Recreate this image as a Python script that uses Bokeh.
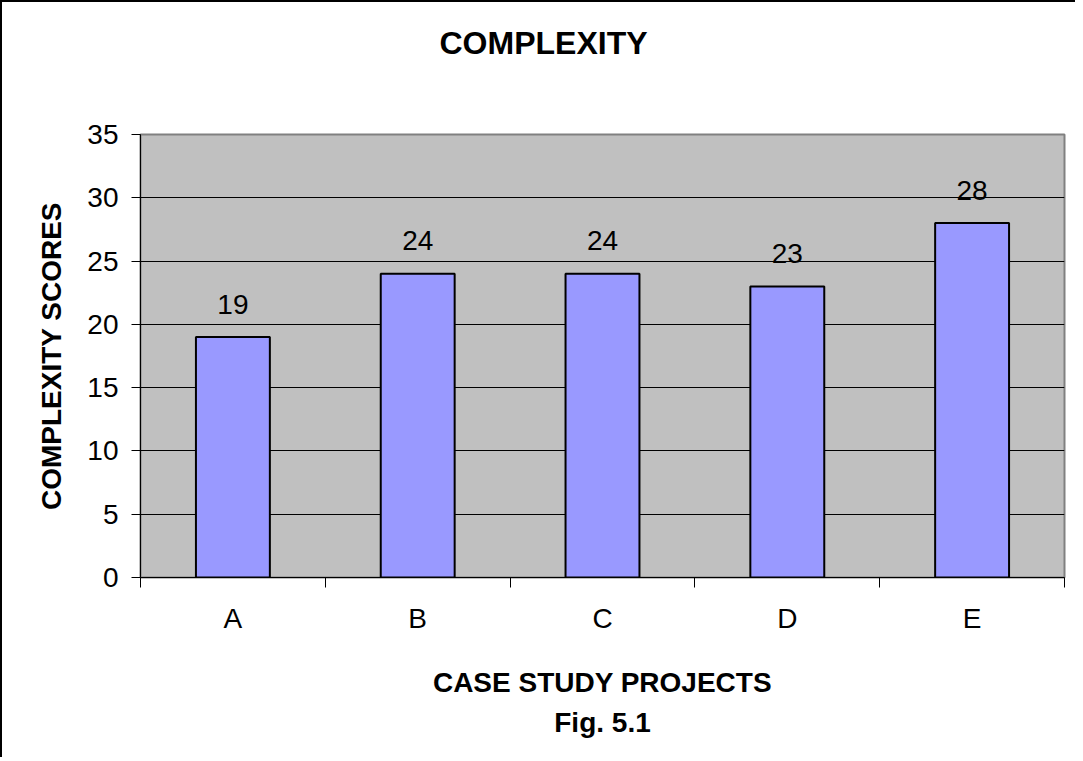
from bokeh.plotting import figure
from bokeh.models import FixedTicker, Range1d, Title, ColumnDataSource, InlineStyleSheet
from bokeh.core.properties import value
from bokeh.embed import file_html
from bokeh.resources import INLINE

categories = ["A", "B", "C", "D", "E"]
scores = [19, 24, 24, 23, 28]
y_ticks = [0, 5, 10, 15, 20, 25, 30, 35]

FONT = "Liberation Sans"
xs = list(range(len(categories)))
src = ColumnDataSource(data=dict(x=xs, top=scores, lbl=[str(v) for v in scores]))

p = figure(width=1075, height=757, output_backend="svg", toolbar_location=None,
           x_range=Range1d(-0.5, len(categories) - 0.5), y_range=Range1d(0, 35),
           min_border_left=138, min_border_right=13, min_border_top=132, min_border_bottom=182,
           background_fill_color="#C0C0C0", border_fill_color="white",
           outline_line_color="#808080", outline_line_width=2)
# outer chart-area border (left and top edges visible in the reference)
p.stylesheets = [InlineStyleSheet(css=":host { border-left: 2px solid black; border-top: 2px solid black; }")]

p.vbar(x="x", top="top", bottom=0, width=0.4, source=src,
       fill_color="#9999FF", line_color="black", line_width=2)
p.text(x="x", y="top", text="lbl", source=src, text_align="center",
       text_baseline="alphabetic", y_offset=-33, text_font=value(FONT),
       text_font_size="28px", text_color="black")

# axes
p.xgrid.visible = False
p.ygrid.ticker = FixedTicker(ticks=y_ticks)
p.ygrid.grid_line_color = "black"
p.ygrid.grid_line_width = 1

p.yaxis.ticker = FixedTicker(ticks=y_ticks)
p.yaxis.major_tick_out = 9
p.yaxis.major_tick_in = 0
p.yaxis.minor_tick_out = 0
p.yaxis.major_label_standoff = 13
p.yaxis.axis_label = "COMPLEXITY SCORES"
p.yaxis.axis_label_standoff = 17

p.xaxis.ticker = FixedTicker(ticks=xs, minor_ticks=[x - 0.5 for x in xs] + [xs[-1] + 0.5])
p.xaxis.major_label_overrides = {i: c for i, c in enumerate(categories)}
p.xaxis.major_tick_out = 0
p.xaxis.major_tick_in = 0
p.xaxis.minor_tick_out = 10
p.xaxis.minor_tick_in = 0
p.xaxis.major_label_standoff = 15
p.xaxis.axis_label = "CASE STUDY PROJECTS"
p.xaxis.axis_label_standoff = 30

for ax in (p.xaxis[0], p.yaxis[0]):
    ax.axis_line_color = "black"
    ax.axis_line_width = 1
    ax.major_tick_line_color = "black"
    ax.minor_tick_line_color = "black"
    ax.major_label_text_font = FONT
    ax.major_label_text_font_size = "28px"
    ax.major_label_text_color = "black"
    ax.axis_label_text_font = FONT
    ax.axis_label_text_font_size = "28px"
    ax.axis_label_text_font_style = "bold"
    ax.axis_label_text_color = "black"

# spacer panel between frame and chart title (nearest the frame), then the title
p.add_layout(Title(text=" ", standoff=56, text_font=FONT, text_font_size="10px"), "above")
p.add_layout(Title(text="COMPLEXITY", align="left", offset=299, standoff=10,
                   text_font=FONT, text_font_size="32px", text_font_style="bold",
                   text_color="black"), "above")
p.add_layout(Title(text="Fig. 5.1", align="center", standoff=8,
                   text_font=FONT, text_font_size="28px", text_font_style="bold",
                   text_color="black"), "below")

open("out.html", "w").write(file_html(p, INLINE))
